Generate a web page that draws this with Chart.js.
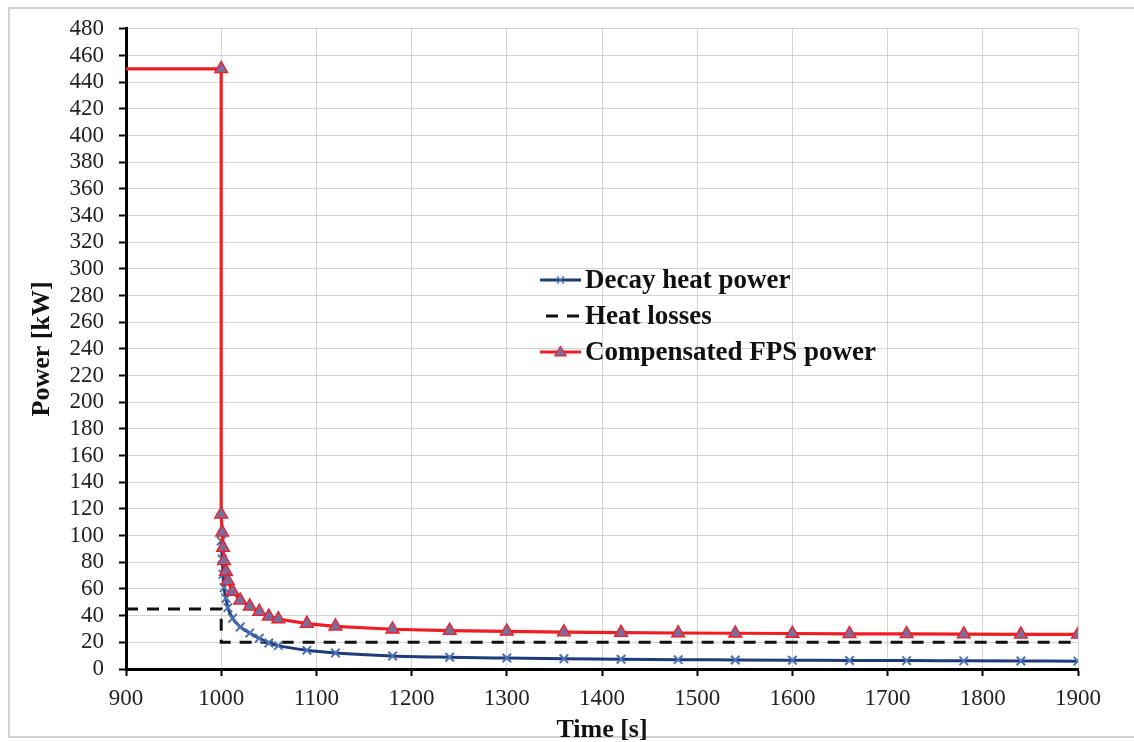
<!DOCTYPE html>
<html>
<head>
<meta charset="utf-8">
<script src="https://cdn.jsdelivr.net/npm/chart.js@4"></script>
<style>
  html, body { margin: 0; padding: 0; background: #fff; }
</style>
</head>
<body>
<canvas id="powerChart" width="1134" height="742"></canvas>
<script>
// values
const decayTime = [1000, 1001, 1002, 1003, 1005, 1007, 1012, 1020, 1030, 1040, 1050, 1060, 1090, 1120,
                   1180, 1240, 1300, 1360, 1420, 1480, 1540, 1600, 1660, 1720, 1780, 1840, 1900];
const decayPower = [96, 82.5, 71, 61, 53, 46, 38, 31.5, 27, 23, 19.5, 17.5, 14, 12,
                    9.8, 8.8, 8.2, 7.7, 7.3, 7.0, 6.8, 6.6, 6.4, 6.3, 6.1, 6.0, 5.9];

const lossTime = [900, 1000, 1000, 1900];
const lossPower = [45, 45, 20, 20];

const fpsTime = [900, 1000, 1000, 1001, 1002, 1003, 1005, 1007, 1012, 1020, 1030, 1040, 1050, 1060, 1090, 1120,
                 1180, 1240, 1300, 1360, 1420, 1480, 1540, 1600, 1660, 1720, 1780, 1840, 1900];
const fpsPower = [450, 450, 116, 102.5, 91, 81, 73, 66, 58, 51.5, 47, 43, 39.5, 37.5, 34, 32,
                  29.8, 28.8, 28.2, 27.7, 27.3, 27.0, 26.8, 26.6, 26.4, 26.3, 26.1, 26.0, 25.9];

const seriesNames = ['Decay heat power', 'Heat losses', 'Compensated FPS power'];
const xTicks = [900, 1000, 1100, 1200, 1300, 1400, 1500, 1600, 1700, 1800, 1900];

const toPoints = (xs, ys) => xs.map((x, i) => ({ x: x, y: ys[i] }));

const RED = '#f01d22';
const NAVY = '#1d3c7c';
const MARK_BLUE = '#4d72b6';
const TRI_FILL = '#7c6b9d';
const SERIF = '"Liberation Serif", "Times New Roman", serif';

// white page + thin frame
const frame = {
    id: 'frame',
    beforeDraw(chart) {
        const c = chart.ctx;
        c.save();
        c.fillStyle = '#fff';
        c.fillRect(0, 0, chart.width, chart.height);
        c.strokeStyle = '#c4c4c4';
        c.lineWidth = 1.5;
        c.strokeRect(9, 8, chart.width + 20, 729);
        c.restore();
    }
};

// legend sits inside the plot, like the Excel original
const innerLegend = {
    id: 'innerLegend',
    afterDraw(chart) {
        const c = chart.ctx;
        const x0 = 540, x1 = 581, tx = 585;
        const rows = [280, 316, 352];
        c.save();
        c.font = 'bold 27px ' + SERIF;
        c.textBaseline = 'middle';
        c.fillStyle = '#111';
        rows.forEach((y, i) => {
            const ds = chart.data.datasets[i];
            c.beginPath();
            c.strokeStyle = ds.borderColor;
            c.lineWidth = 3;
            c.setLineDash(ds.borderDash || []);
            if (ds.borderDash) {
                c.moveTo(x0 + 6, y); c.lineTo(x1, y);
            } else {
                c.moveTo(x0, y); c.lineTo(x1, y);
            }
            c.stroke();
            c.setLineDash([]);
            const mx = (x0 + x1) / 2;
            if (i === 0) {
                c.strokeStyle = MARK_BLUE; c.lineWidth = 1.5;
                c.beginPath();
                c.moveTo(mx - 3.5, y - 3.5); c.lineTo(mx + 3.5, y + 3.5);
                c.moveTo(mx + 3.5, y - 3.5); c.lineTo(mx - 3.5, y + 3.5);
                c.stroke();
            } else if (i === 2) {
                c.fillStyle = TRI_FILL; c.strokeStyle = RED; c.lineWidth = 1;
                c.beginPath();
                c.moveTo(mx, y - 6); c.lineTo(mx + 6, y + 4); c.lineTo(mx - 6, y + 4); c.closePath();
                c.fill(); c.stroke();
                c.fillStyle = '#111';
            }
            c.fillText(ds.label, tx, y + 1);
        });
        c.restore();
    }
};

const ctx = document.getElementById('powerChart').getContext('2d');
new Chart(ctx, {
    type: 'line',
    data: {
        datasets: [
            {
                label: seriesNames[0],
                data: toPoints(decayTime, decayPower),
                borderColor: NAVY,
                borderWidth: 3,
                cubicInterpolationMode: 'monotone',
                pointStyle: 'crossRot',
                pointRadius: 6,
                pointBorderColor: MARK_BLUE,
                pointBorderWidth: 2,
                order: 2
            },
            {
                label: seriesNames[1],
                data: toPoints(lossTime, lossPower),
                borderColor: '#111',
                borderWidth: 3,
                borderDash: [12, 9],
                pointRadius: 0,
                order: 3
            },
            {
                label: seriesNames[2],
                data: toPoints(fpsTime, fpsPower),
                borderColor: RED,
                borderWidth: 3.2,
                pointStyle: 'triangle',
                pointRadius: fpsTime.map((t, i) => i === 0 ? 0 : 7.5),
                pointBackgroundColor: TRI_FILL,
                pointBorderColor: RED,
                pointBorderWidth: 1.3,
                order: 1
            }
        ]
    },
    options: {
        responsive: false,
        animation: false,
        layout: { padding: { top: 27, right: 56, left: 0, bottom: 0 } },
        plugins: {
            legend: { display: false },
            tooltip: { enabled: false }
        },
        scales: {
            x: {
                type: 'linear',
                min: 900,
                max: 1900,
                afterFit: s => { s.height = 73; },
                afterBuildTicks: s => { s.ticks = xTicks.map(v => ({ value: v })); },
                grid: { color: '#d3d3d3', lineWidth: 1, tickColor: '#000', tickLength: 7, tickWidth: 2 },
                border: { color: '#000', width: 3 },
                ticks: {
                    color: '#222',
                    padding: 9,
                    maxRotation: 0,
                    autoSkip: false,
                    callback: v => String(v),
                    font: { family: SERIF, size: 23 }
                },
                title: {
                    display: true,
                    text: 'Time [s]',
                    color: '#111',
                    padding: { top: 0, bottom: -4 },
                    font: { family: SERIF, size: 26, weight: 'bold' }
                }
            },
            y: {
                min: 0,
                max: 480,
                afterFit: s => { s.width = 126; },
                grid: { color: '#d3d3d3', lineWidth: 1, tickColor: '#000', tickLength: 7, tickWidth: 2 },
                border: { color: '#000', width: 3 },
                ticks: {
                    stepSize: 20,
                    color: '#222',
                    padding: 15,
                    autoSkip: false,
                    callback: v => String(v),
                    font: { family: SERIF, size: 23 }
                },
                title: {
                    display: true,
                    text: 'Power [kW]',
                    color: '#111',
                    padding: { top: 27, bottom: 0 },
                    font: { family: SERIF, size: 26, weight: 'bold' }
                }
            }
        }
    },
    plugins: [frame, innerLegend]
});
</script>
</body>
</html>
